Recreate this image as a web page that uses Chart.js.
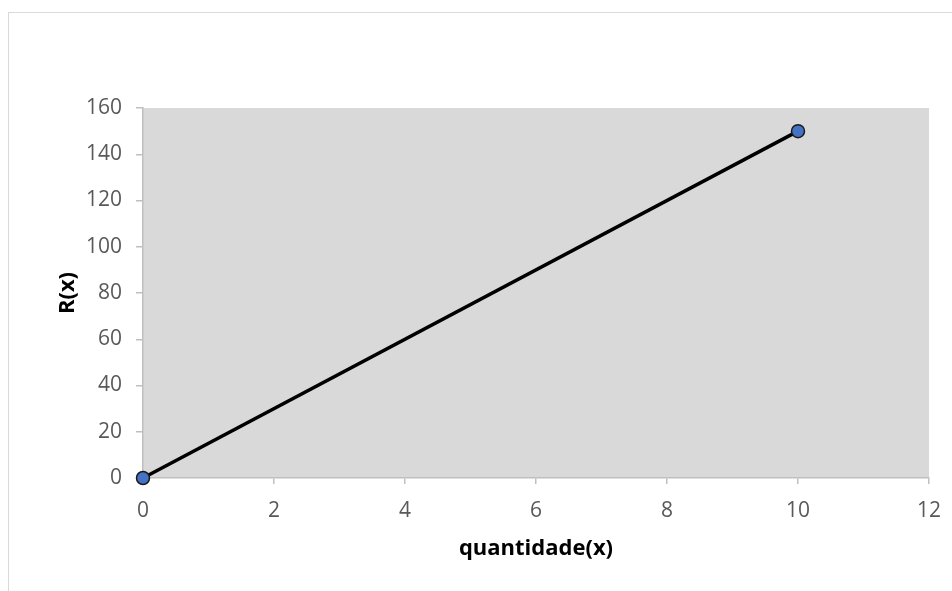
<!DOCTYPE html>
<html>
<head>
<meta charset="utf-8">
<script src="https://cdn.jsdelivr.net/npm/chart.js@4"></script>
<style>
  body { margin: 0; background: #fff; overflow: hidden; }
  #frame { position: absolute; left: 8px; top: 12px; width: 2000px; height: 2000px; border: 1px solid #D9D9D9; }
  #wrap { position: absolute; left: 0; top: 0; width: 952px; height: 591px; }
</style>
</head>
<body>
<div id="frame"></div>
<div id="wrap"><canvas id="chart"></canvas></div>
<script>
const quantidade = [0, 10];
const receita = [0, 150];
const xTicks = [0, 2, 4, 6, 8, 10, 12];
const yTicks = [0, 20, 40, 60, 80, 100, 120, 140, 160];

const FONT = '"Open Sans", "Noto Sans", sans-serif';

const plotBg = {
  id: 'plotBg',
  beforeDraw(chart) {
    const { ctx, chartArea: a } = chart;
    ctx.save();
    ctx.fillStyle = '#D9D9D9';
    ctx.fillRect(a.left, a.top, a.right - a.left, a.bottom - a.top);
    ctx.restore();
  }
};

new Chart(document.getElementById('chart'), {
  type: 'scatter',
  data: {
    datasets: [{
      data: quantidade.map((x, i) => ({ x: x, y: receita[i] })),
      showLine: true,
      borderColor: '#000000',
      borderWidth: 3.5,
      pointRadius: 6.5,
      pointBorderWidth: 1.5,
      pointBackgroundColor: '#4472C4',
      pointBorderColor: '#1A1A1A',
      clip: false
    }]
  },
  options: {
    responsive: true,
    maintainAspectRatio: false,
    animation: false,
    layout: { padding: { top: 108, right: 23, left: 0, bottom: 0 } },
    plugins: { legend: { display: false }, tooltip: { enabled: false } },
    scales: {
      x: {
        type: 'linear',
        min: xTicks[0],
        max: xTicks[xTicks.length - 1],
        afterFit(s) { s.height = 113; s.paddingRight = 0; s.paddingLeft = 0; },
        afterBuildTicks(s) { s.ticks = xTicks.map(v => ({ value: v })); },
        grid: { drawOnChartArea: false, drawTicks: true, tickLength: 6, color: '#BFBFBF', lineWidth: 1.5 },
        border: { display: true, color: '#BFBFBF', width: 1.5 },
        ticks: { color: '#595959', font: { family: FONT, size: 21 }, padding: 14 },
        title: {
          display: true, text: 'quantidade(x)', color: '#000000',
          font: { family: FONT, size: 22, weight: 'bold' },
          padding: { top: 0, bottom: 29 }
        }
      },
      y: {
        type: 'linear',
        min: yTicks[0],
        max: yTicks[yTicks.length - 1],
        afterFit(s) { s.width = 143; },
        afterBuildTicks(s) { s.ticks = yTicks.map(v => ({ value: v })); },
        grid: { drawOnChartArea: false, drawTicks: true, tickLength: 7, color: '#BFBFBF', lineWidth: 1.5 },
        border: { display: true, color: '#BFBFBF', width: 1.5 },
        ticks: { color: '#595959', font: { family: FONT, size: 21 }, padding: 14 },
        title: {
          display: true, text: 'R(x)', color: '#000000',
          font: { family: FONT, size: 22, weight: 'bold' },
          padding: { top: 55, bottom: 0 }
        }
      }
    }
  },
  plugins: [plotBg]
});
</script>
</body>
</html>
